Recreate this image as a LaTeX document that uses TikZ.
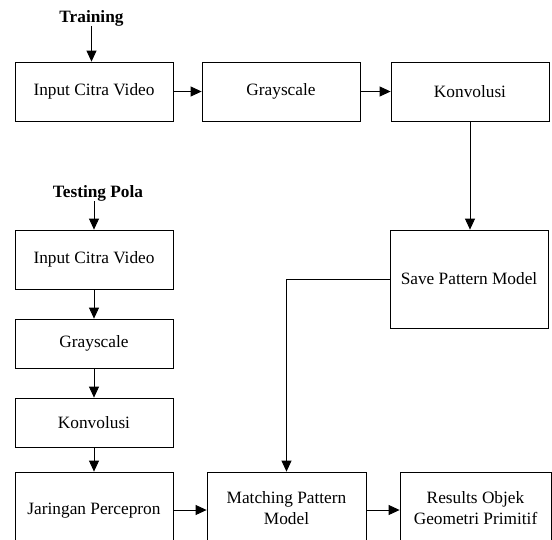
\documentclass[tikz,border=0pt]{standalone}
\usepackage{fontspec}
\setmainfont{Liberation Serif}
\usetikzlibrary{arrows.meta}
\begin{document}
\begin{tikzpicture}[x=1pt,y=-1pt,
  box/.style={draw, line width=0.8pt, inner sep=0pt, align=center,
    font=\fontsize{17.3}{21}\selectfont},
  hdr/.style={inner sep=0pt, font=\fontsize{17.3}{21}\selectfont\bfseries},
  flow/.style={line width=0.8pt, -{Triangle[length=11pt,width=10pt]}},
  wire/.style={line width=0.8pt}]
\useasboundingbox (0,0) rectangle (552,539);
\clip (0,0) rectangle (552,539);

% training chain
\node[hdr] (train) at (91.5,18) {Training};
\node[box, minimum width=158pt, minimum height=59pt] (tin)   at (94,91.5)  {Input Citra Video};
\node[box, minimum width=158pt, minimum height=59pt] (tgray) at (281,91.5) {Grayscale};
\node[box, minimum width=158pt, minimum height=59pt] (tkonv) at (470,91.5) {Konvolusi};
\node[box, minimum width=158pt, minimum height=98pt] (save)  at (469,279)  {Save Pattern Model};

% testing chain
\node[hdr] (test) at (98,193) {Testing Pola};
\node[box, minimum width=158pt, minimum height=59pt] (pin)   at (94,259.5) {Input Citra Video};
\node[box, minimum width=158pt, minimum height=49pt] (pgray) at (94,343.5) {Grayscale};
\node[box, minimum width=158pt, minimum height=49pt] (pkonv) at (94,422.5) {Konvolusi};
\node[box, minimum width=158pt, minimum height=73pt, text depth=0pt] (jar) at (94,508.5) {Jaringan Percepron};
\node[box, minimum width=159pt, minimum height=73pt] (match) at (286.5,508.5) {Matching Pattern\\Model};
\node[box, minimum width=151pt, minimum height=73pt] (res)   at (475.5,508.5) {Results Objek\\Geometri Primitif};

% connectors
\draw[flow] (train.south) -- (train.south |- tin.north);
\draw[flow] (tin.east) -- (tgray.west);
\draw[flow] (tgray.east) -- (tkonv.west);
\draw[flow] (tkonv.south) -- (tkonv.south |- save.north);
\draw[flow] (save.west) -| (match.north);

\draw[flow] (pin.north |- test.south) -- (pin.north);
\draw[flow] (pin.south) -- (pgray.north);
\draw[flow] (pgray.south) -- (pkonv.north);
\draw[flow] (pkonv.south) -- (jar.north);
\draw[flow] ([yshift=-1.5pt]jar.east) -- ([yshift=-1.5pt]match.west);
\draw[flow] ([yshift=-1.5pt]match.east) -- ([yshift=-1.5pt]res.west);
\end{tikzpicture}
\end{document}
